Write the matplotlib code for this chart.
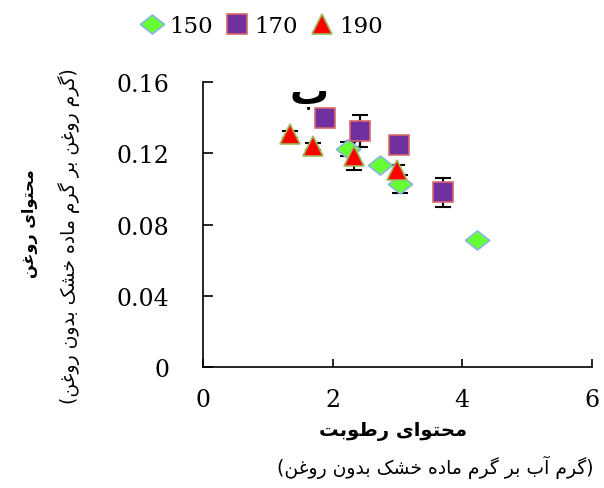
import matplotlib
matplotlib.use("Agg")
import matplotlib.pyplot as plt

# داده ها (خوانده شده از تصویر)
x_150 = [2.24, 2.73, 3.04, 4.22]
y_150 = [0.1224, 0.1136, 0.1027, 0.0713]
e_150 = [0.004, 0.0, 0.005, 0.0]

x_170 = [1.88, 2.42, 3.02, 3.70]
y_170 = [0.1398, 0.1327, 0.1248, 0.0981]
e_170 = [0.0, 0.009, 0.0, 0.008]

x_190 = [1.34, 1.70, 2.33, 2.99]
y_190 = [0.1308, 0.1239, 0.1187, 0.1106]
e_190 = [0.002, 0.002, 0.008, 0.003]

series_labels = ["150", "170", "190"]
x_ticks = [0, 2, 4, 6]
y_ticks = [0, 0.04, 0.08, 0.12, 0.16]
y_tick_labels = ["0", "0.04", "0.08", "0.12", "0.16"]

xlabel_1 = "محتوای رطوبت"
xlabel_2 = "گرم آب بر گرم ماده خشک بدون روغن"
ylabel_1 = "محتوای روغن"
ylabel_2 = "گرم روغن بر گرم ماده خشک بدون روغن"
panel = "ب"

# شکل دهی ساده حروف فارسی (matplotlib خودش این کار را نمی کند)
forms = {
    "ا": ("\uFE8D", "\uFE8E", None, None),
    "آ": ("\uFE81", "\uFE82", None, None),
    "ب": ("\uFE8F", "\uFE90", "\uFE91", "\uFE92"),
    "ت": ("\uFE95", "\uFE96", "\uFE97", "\uFE98"),
    "ح": ("\uFEA1", "\uFEA2", "\uFEA3", "\uFEA4"),
    "خ": ("\uFEA5", "\uFEA6", "\uFEA7", "\uFEA8"),
    "د": ("\uFEA9", "\uFEAA", None, None),
    "ر": ("\uFEAD", "\uFEAE", None, None),
    "ش": ("\uFEB5", "\uFEB6", "\uFEB7", "\uFEB8"),
    "ط": ("\uFEC1", "\uFEC2", "\uFEC3", "\uFEC4"),
    "غ": ("\uFECD", "\uFECE", "\uFECF", "\uFED0"),
    "م": ("\uFEE1", "\uFEE2", "\uFEE3", "\uFEE4"),
    "ن": ("\uFEE5", "\uFEE6", "\uFEE7", "\uFEE8"),
    "ه": ("\uFEE9", "\uFEEA", "\uFEEB", "\uFEEC"),
    "و": ("\uFEED", "\uFEEE", None, None),
    "ی": ("\uFBFC", "\uFBFD", "\uFBFE", "\uFBFF"),
    "ک": ("\uFB8E", "\uFB8F", "\uFB90", "\uFB91"),
    "گ": ("\uFB92", "\uFB93", "\uFB94", "\uFB95"),
}


def shape(word):
    out = []
    for i, ch in enumerate(word):
        f = forms[ch]
        prev = i > 0 and forms[word[i - 1]][2] is not None
        nxt = i < len(word) - 1 and f[2] is not None
        if prev and nxt:
            g = f[3]
        elif prev:
            g = f[1]
        elif nxt:
            g = f[2]
        else:
            g = f[0]
        out.append(g)
    return "".join(reversed(out))


def rtl(text):
    return " ".join(shape(w) for w in reversed(text.split()))


num_font = ["DejaVu Serif"]
fa_font = ["DejaVu Sans"]

fig = plt.figure(figsize=(6.04, 4.89), dpi=100)
ax = fig.add_axes([0.336, 0.2474, 0.644, 0.5826])

diamond = [(-1, 0), (0, 0.78), (1, 0), (0, -0.78), (-1, 0)]

ax.errorbar(x_150, y_150, yerr=e_150, fmt="none", ecolor="black", elinewidth=1.5, capsize=6, capthick=1.5)
ax.errorbar(x_170, y_170, yerr=e_170, fmt="none", ecolor="black", elinewidth=1.5, capsize=6, capthick=1.5)
ax.errorbar(x_190, y_190, yerr=e_190, fmt="none", ecolor="black", elinewidth=1.5, capsize=6, capthick=1.5)

ax.plot(x_150, y_150, linestyle="none", marker=diamond, markersize=17.5,
        markerfacecolor="#66FF33", markeredgecolor="#8DB4E2", markeredgewidth=1.2, label=series_labels[0])
ax.plot(x_170, y_170, linestyle="none", marker="s", markersize=14.5,
        markerfacecolor="#7030A0", markeredgecolor="#D9696A", markeredgewidth=1.2, label=series_labels[1])
ax.plot(x_190, y_190, linestyle="none", marker="^", markersize=14.5,
        markerfacecolor="#FF0000", markeredgecolor="#9BBB59", markeredgewidth=1.2, label=series_labels[2])

ax.set_xlim(0, 6)
ax.set_ylim(0, 0.16)
ax.set_xticks(x_ticks)
ax.set_yticks(y_ticks)
ax.set_yticklabels(y_tick_labels)
ax.spines["top"].set_visible(False)
ax.spines["right"].set_visible(False)
for s in ["left", "bottom"]:
    ax.spines[s].set_linewidth(1.2)
ax.tick_params(axis="y", direction="in", length=7, width=1.2, pad=24)
ax.tick_params(axis="x", direction="in", length=6, width=1.2, pad=15)
for lab in ax.get_xticklabels() + ax.get_yticklabels():
    lab.set_family(num_font)
    lab.set_fontsize(17)

ax.text(1.64, 0.155, shape(panel), family=fa_font, fontsize=28, fontweight="bold",
        ha="center", va="center")

fig.text(0.651, 1 - 432 / 489, rtl(xlabel_1), family=fa_font, fontsize=14,
         fontweight="bold", ha="center", va="center")
fig.text(0.72, 1 - 467 / 489, "(" + rtl(xlabel_2) + ")", family=fa_font, fontsize=13.5,
         ha="center", va="center")
fig.text(30 / 604, 1 - 224 / 489, rtl(ylabel_1), family=fa_font, fontsize=11.5,
         fontweight="bold", ha="center", va="center", rotation=90)
fig.text(69 / 604, 1 - 236 / 489, "(" + rtl(ylabel_2) + ")", family=fa_font, fontsize=13.5,
         ha="center", va="center", rotation=90)

fig.legend(loc="center", bbox_to_anchor=(262 / 604, 1 - 27 / 489), ncol=3, frameon=False,
           prop={"family": num_font, "size": 16.5}, handlelength=0.9, handletextpad=0.3,
           columnspacing=0.6, borderaxespad=0, borderpad=0)

fig.savefig("out.png", dpi=100)
